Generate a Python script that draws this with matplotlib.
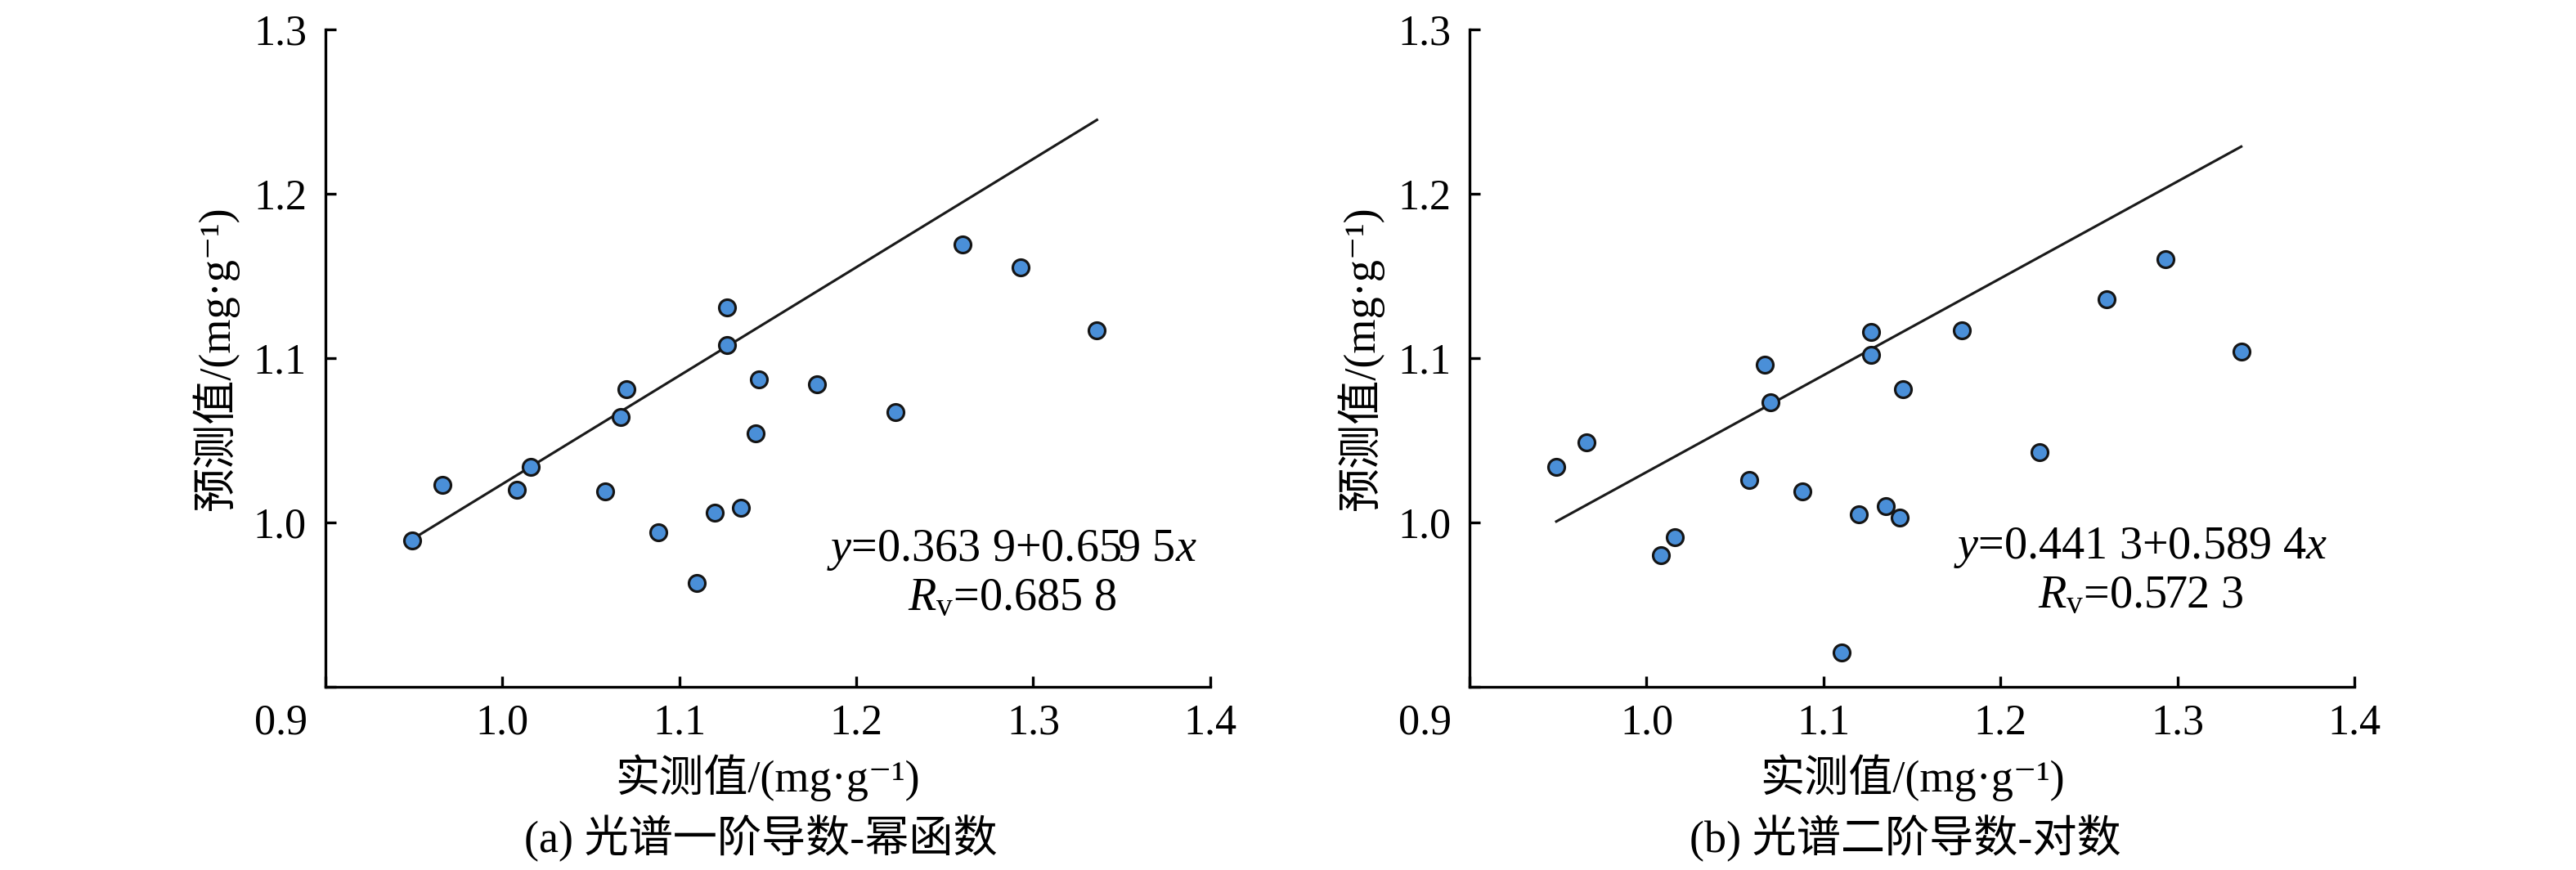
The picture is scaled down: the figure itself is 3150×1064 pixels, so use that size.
import numpy as np
import matplotlib
matplotlib.use("Agg")
import matplotlib.pyplot as plt

plt.rcParams['font.family'] = ['Liberation Serif', 'DejaVu Serif', 'Noto Sans CJK SC']
plt.rcParams['mathtext.fontset'] = 'custom'
plt.rcParams['mathtext.rm'] = 'Liberation Serif'
plt.rcParams['mathtext.it'] = 'Liberation Serif:italic'
plt.rcParams['axes.unicode_minus'] = False

# measured values (same samples in both panels)
measured = [0.949, 0.966, 1.008, 1.016, 1.058, 1.067, 1.070, 1.088, 1.110, 1.120,
            1.135, 1.127, 1.127, 1.143, 1.145, 1.178, 1.222, 1.260, 1.293, 1.336]

# predicted values, (a) first derivative - power function
pred_a = [0.989, 1.023, 1.020, 1.034, 1.019, 1.064, 1.081, 0.994, 0.963, 1.006,
          1.009, 1.131, 1.108, 1.054, 1.087, 1.084, 1.067, 1.169, 1.155, 1.117]

# predicted values, (b) second derivative - logarithm
pred_b = [1.034, 1.049, 0.980, 0.991, 1.026, 1.096, 1.073, 1.019, 0.921, 1.005,
          1.010, 1.116, 1.102, 1.003, 1.081, 1.117, 1.043, 1.136, 1.160, 1.104]

# fitted lines: intercept, slope, Rv
fit_a = (0.3639, 0.6595, "0.685 8")
fit_b = (0.4413, 0.5894, "0.572 3")

eq_a = "$y$=0.363 9+0.659 5$x$\n$R_\\mathrm{v}$=0.685 8"
eq_b = "$y$=0.441 3+0.589 4$x$\n$R_\\mathrm{v}$=0.572 3"

captions = ["(a) 光谱一阶导数-幂函数", "(b) 光谱二阶导数-对数"]
xlabel = "实测值/(mg·g⁻¹)"
ylabel = "预测值/(mg·g⁻¹)"

xticks = [0.9, 1.0, 1.1, 1.2, 1.3, 1.4]
yticks = [0.9, 1.0, 1.1, 1.2, 1.3]

fig = plt.figure(figsize=(10.5, 3.5467), dpi=300)
ax1 = fig.add_axes([0.1263, 0.2105, 0.3435, 0.7556])
ax2 = fig.add_axes([0.5705, 0.2105, 0.3435, 0.7556])

panels = [(ax1, pred_a, fit_a, eq_a, (1.288, 0.9687), captions[0]),
          (ax2, pred_b, fit_b, eq_b, (1.279, 0.9701), captions[1])]

for ax, pred, fit, eq, eqpos, cap in panels:
    b0, b1, rv = fit
    xs = np.array([min(measured), max(measured)])
    ax.plot(xs, b0 + b1 * xs, color='#1a1a1a', lw=0.75, zorder=2)
    ax.plot(measured, pred, 'o', ms=4.8, mfc='#4a8fd8', mec='#151515', mew=0.75,
            zorder=3, clip_on=False)

    ax.set_xlim(0.9, 1.4)
    ax.set_ylim(0.9, 1.3)
    ax.set_xticks(xticks)
    ax.set_xticklabels([''] + [f"{t:.1f}" for t in xticks[1:]])
    ax.set_yticks(yticks)
    ax.set_yticklabels([''] + [f"{t:.1f}" for t in yticks[1:]])
    ax.tick_params(direction='in', length=3.2, width=0.8, labelsize=12.5)
    ax.tick_params(axis='x', pad=4.8)
    ax.tick_params(axis='y', pad=5.5)
    ax.annotate("0.9", xy=(0, 0), xycoords='axes fraction', xytext=(-5.3, -4.8),
                textcoords='offset points', ha='right', va='top', fontsize=12.5)

    ax.spines['top'].set_visible(False)
    ax.spines['right'].set_visible(False)
    ax.spines['left'].set_linewidth(0.8)
    ax.spines['bottom'].set_linewidth(0.8)

    ax.text(eqpos[0], eqpos[1], eq, ha='center', va='center', multialignment='center',
            fontsize=13.5, linespacing=1.15)

    ax.set_xlabel(xlabel, fontsize=13)
    ax.xaxis.set_label_coords(0.5, -0.102)
    ax.set_ylabel(ylabel, fontsize=13, va='center')
    ax.yaxis.set_label_coords(-0.124, 0.5)
    ax.text(0.492, -0.231, cap, ha='center', va='center', fontsize=13,
            transform=ax.transAxes)

fig.savefig("out.png", dpi=300)
